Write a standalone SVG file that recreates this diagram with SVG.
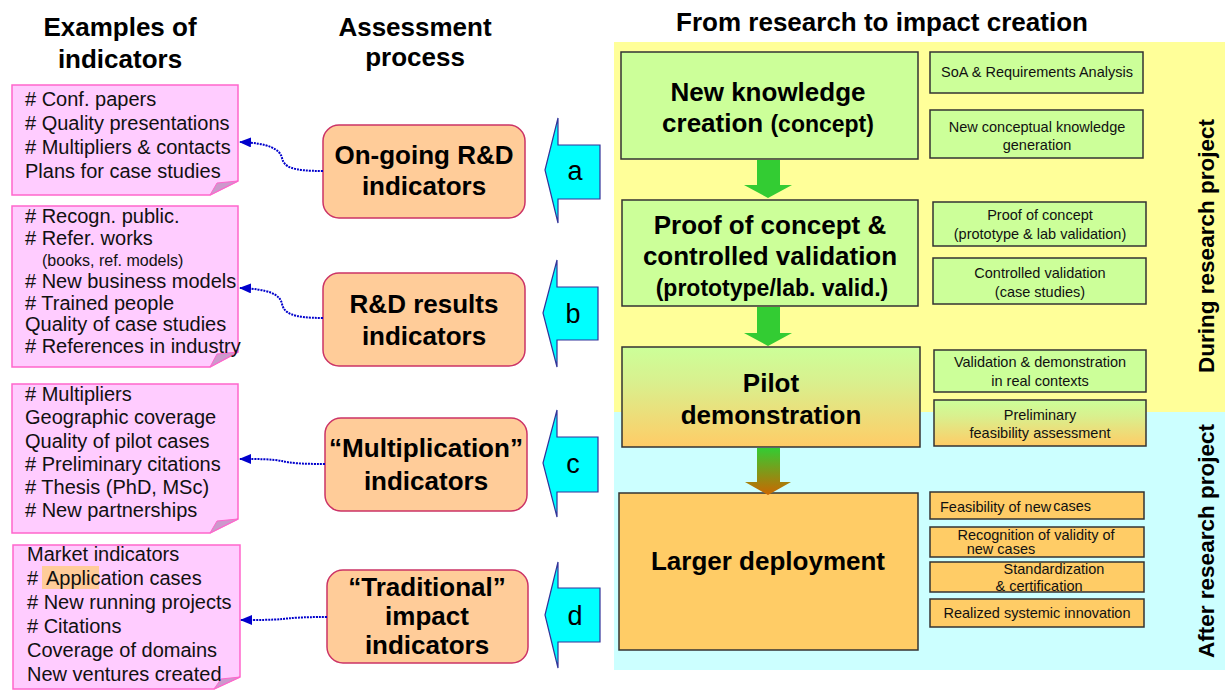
<svg xmlns="http://www.w3.org/2000/svg" width="1225" height="690" viewBox="0 0 1225 690">
<defs>
<style>
.title{font-family:"Liberation Sans",Arial,sans-serif;font-weight:bold;font-size:26px;fill:#000;text-anchor:middle}
.note{fill:#FFCCFF;stroke:#FF66CC;stroke-width:1.5}
.fold{fill:#CC99CC;stroke:#FF66CC;stroke-width:1}
.nt{font-family:"Liberation Sans",Arial,sans-serif;font-size:20px;fill:#111}
.ob{fill:#FFCC99;stroke:#CC3366;stroke-width:1.5}
.obt{font-family:"Liberation Sans",Arial,sans-serif;font-weight:bold;font-size:26px;fill:#000;text-anchor:middle}
.ca{fill:#00FFFF;stroke:#333399;stroke-width:1.2}
.cat{font-family:"Liberation Sans",Arial,sans-serif;font-size:27px;fill:#000;text-anchor:middle}
.gb{fill:#CCFF99;stroke:#333;stroke-width:1.5}
.yb{fill:#FFCC66;stroke:#333;stroke-width:1.5}
.bt{font-family:"Liberation Sans",Arial,sans-serif;font-weight:bold;font-size:26px;fill:#000;text-anchor:middle}
.bs{font-family:"Liberation Sans",Arial,sans-serif;font-weight:bold;font-size:23px;fill:#000;text-anchor:middle}
.st{font-family:"Liberation Sans",Arial,sans-serif;font-size:14.5px;fill:#111;text-anchor:middle}
.sl{font-family:"Liberation Sans",Arial,sans-serif;font-size:14.5px;fill:#111;text-anchor:start}
.vt{font-family:"Liberation Sans",Arial,sans-serif;font-weight:bold;font-size:22.5px;fill:#000;text-anchor:middle}
.conn{fill:none;stroke:#0000CC;stroke-width:2;stroke-dasharray:2 1}
</style>
<marker id="ah" markerWidth="12" markerHeight="10" refX="11" refY="5" orient="auto" markerUnits="userSpaceOnUse">
<path d="M0,0 L12,5 L0,10 Z" fill="#0000CC"/>
</marker>
<linearGradient id="gpilot" x1="0" y1="0" x2="0" y2="1">
<stop offset="0" stop-color="#CCFF99"/>
<stop offset="0.35" stop-color="#D9F08E"/>
<stop offset="1" stop-color="#FFCC66"/>
</linearGradient>
<linearGradient id="garrow" x1="0" y1="0" x2="0" y2="1">
<stop offset="0" stop-color="#33CC33"/>
<stop offset="1" stop-color="#CC6600"/>
</linearGradient>
</defs>

<rect width="1225" height="690" fill="#FFFFFF"/>

<!-- background bands -->
<g id="bands">
<rect x="614" y="42" width="611" height="370" fill="#FFFF99"/>
<rect x="614" y="412" width="611" height="258" fill="#CCFFFF"/>
</g>

<!-- titles -->
<g id="titles">
<text class="title" x="120" y="36">Examples of</text>
<text class="title" x="120" y="68">indicators</text>
<text class="title" x="415" y="36">Assessment</text>
<text class="title" x="415" y="66">process</text>
<text class="title" x="882" y="31">From research to impact creation</text>
</g>

<!-- indicator notes -->
<g id="note-a">
<path class="note" d="M12,85 H238 V181 L210,195 H12 Z"/>
<polygon class="fold" points="238,181 210,195 217,183"/>
<text class="nt">
<tspan x="25" y="106"># Conf. papers</tspan>
<tspan x="25" y="130"># Quality presentations</tspan>
<tspan x="25" y="154"># Multipliers &amp; contacts</tspan>
<tspan x="25" y="178">Plans for case studies</tspan>
</text>
</g>

<g id="note-b">
<path class="note" d="M12,206 H238 V352 L210,367 H12 Z"/>
<polygon class="fold" points="238,352 210,367 217,354"/>
<text class="nt">
<tspan x="25" y="223"># Recogn. public.</tspan>
<tspan x="25" y="245"># Refer. works</tspan>
<tspan x="42" y="266" font-size="16">(books, ref. models)</tspan>
<tspan x="25" y="288"># New business models</tspan>
<tspan x="25" y="310"># Trained people</tspan>
<tspan x="25" y="331">Quality of case studies</tspan>
<tspan x="25" y="353"># References in industry</tspan>
</text>
</g>

<g id="note-c">
<path class="note" d="M12,384 H238 V519 L210,533 H12 Z"/>
<polygon class="fold" points="238,519 210,533 217,521"/>
<text class="nt">
<tspan x="25" y="401"># Multipliers</tspan>
<tspan x="25" y="424">Geographic coverage</tspan>
<tspan x="25" y="448">Quality of pilot cases</tspan>
<tspan x="25" y="471"># Preliminary citations</tspan>
<tspan x="25" y="494"># Thesis (PhD, MSc)</tspan>
<tspan x="25" y="517"># New partnerships</tspan>
</text>
</g>

<g id="note-d">
<path class="note" d="M13,545 H240 V677 L214,689 H13 Z"/>
<polygon class="fold" points="240,677 214,689 221,679"/>
<rect x="42" y="566" width="57" height="23" fill="#FFCC99"/>
<text class="nt">
<tspan x="27" y="561">Market indicators</tspan>
<tspan x="27" y="585"># </tspan><tspan x="46" y="585">Application cases</tspan>
<tspan x="27" y="609"># New running projects</tspan>
<tspan x="27" y="633"># Citations</tspan>
<tspan x="27" y="657">Coverage of domains</tspan>
<tspan x="27" y="681">New ventures created</tspan>
</text>
</g>

<!-- assessment boxes -->
<g id="assess-a">
<rect class="ob" x="323" y="125" width="202" height="93" rx="16"/>
<text class="obt" x="424" y="164">On-going R&amp;D</text>
<text class="obt" x="424" y="195">indicators</text>
</g>
<g id="assess-b">
<rect class="ob" x="323" y="273" width="202" height="93" rx="16"/>
<text class="obt" x="424" y="313">R&amp;D results</text>
<text class="obt" x="424" y="345">indicators</text>
</g>
<g id="assess-c">
<rect class="ob" x="325" y="418" width="202" height="93" rx="16"/>
<text class="obt" x="426" y="457" textLength="194" lengthAdjust="spacingAndGlyphs">“Multiplication”</text>
<text class="obt" x="426" y="490">indicators</text>
</g>
<g id="assess-d">
<rect class="ob" x="327" y="570" width="201" height="93" rx="16"/>
<text class="obt" x="427" y="596">“Traditional”</text>
<text class="obt" x="427" y="625">impact</text>
<text class="obt" x="427" y="654">indicators</text>
</g>

<!-- cyan arrows -->
<g id="arrow-a">
<polygon class="ca" points="545,170 558,118 558,145 600,145 600,199 558,199 558,223"/>
<text class="cat" x="575" y="180">a</text>
</g>
<g id="arrow-b">
<polygon class="ca" points="543,313 557,260 557,287 598,287 598,340 557,340 557,367"/>
<text class="cat" x="573" y="323">b</text>
</g>
<g id="arrow-c">
<polygon class="ca" points="543,463 557,410 557,437 598,437 598,492 557,492 557,517"/>
<text class="cat" x="573" y="473">c</text>
</g>
<g id="arrow-d">
<polygon class="ca" points="545,615 558,562 558,588 600,588 600,642 558,642 558,668"/>
<text class="cat" x="575" y="625">d</text>
</g>

<!-- connectors -->
<g id="connectors">
<path class="conn" d="M323,171 C292,171 284,167 282,158 C280,149 268,143 240,142" marker-end="url(#ah)"/>
<path class="conn" d="M323,318 C292,318 284,313 282,304 C280,294 268,289 240,288" marker-end="url(#ah)"/>
<path class="conn" d="M325,464 C300,464 290,463 282,461 C272,459 258,459 240,459" marker-end="url(#ah)"/>
<path class="conn" d="M327,617 C300,617 292,618 282,619 C272,620 258,620 241,620" marker-end="url(#ah)"/>
</g>

<!-- stage boxes -->
<g id="stage-1">
<rect class="gb" x="621" y="52" width="297" height="107"/>
<text class="bt" x="768" y="101">New knowledge</text>
<text class="bt" x="768" y="132">creation <tspan font-size="23">(concept)</tspan></text>
</g>
<g id="stage-1-details">
<rect class="gb" x="930" y="52" width="213" height="41"/>
<text class="st" x="1037" y="77">SoA &amp; Requirements Analysis</text>
<rect class="gb" x="930" y="110" width="213" height="48"/>
<text class="st" x="1037" y="132">New conceptual knowledge</text>
<text class="st" x="1037" y="150">generation</text>
</g>

<g id="stage-2">
<rect class="gb" x="622" y="200" width="296" height="106"/>
<text class="bt" x="770" y="234">Proof of concept &amp;</text>
<text class="bt" x="770" y="265">controlled validation</text>
<text class="bs" x="772" y="296">(prototype/lab. valid.)</text>
</g>
<g id="stage-2-details">
<rect class="gb" x="933" y="202" width="213" height="44"/>
<text class="st" x="1040" y="220">Proof of concept</text>
<text class="st" x="1040" y="239">(prototype &amp; lab validation)</text>
<rect class="gb" x="933" y="258" width="213" height="46"/>
<text class="st" x="1040" y="278">Controlled validation</text>
<text class="st" x="1040" y="297">(case studies)</text>
</g>

<g id="stage-3">
<rect x="622" y="347" width="298" height="100" fill="url(#gpilot)" stroke="#333" stroke-width="1.5"/>
<text class="bt" x="771" y="392">Pilot</text>
<text class="bt" x="771" y="424">demonstration</text>
</g>
<g id="stage-3-details">
<rect class="gb" x="934" y="350" width="212" height="42"/>
<text class="st" x="1040" y="367">Validation &amp; demonstration</text>
<text class="st" x="1040" y="386">in real contexts</text>
<rect x="934" y="400" width="212" height="46" fill="url(#gpilot)" stroke="#333" stroke-width="1.5"/>
<text class="st" x="1040" y="420">Preliminary</text>
<text class="st" x="1040" y="438">feasibility assessment</text>
</g>

<g id="stage-4">
<rect class="yb" x="619" y="493" width="299" height="157"/>
<text class="bt" x="768" y="570">Larger deployment</text>
</g>
<g id="stage-4-details">
<rect class="yb" x="930" y="492" width="214" height="27"/>
<text class="sl" x="940" y="512">Feasibility of new<tspan dx="2" dy="-1">cases</tspan></text>
<rect class="yb" x="930" y="527" width="214" height="30"/>
<text class="st" x="1036" y="540">Recognition of validity of</text>
<text class="st" x="1001" y="554">new  cases</text>
<rect class="yb" x="930" y="562" width="214" height="30"/>
<text class="st" x="1054" y="574">Standardization</text>
<text class="st" x="1039" y="591">&amp; certification</text>
<rect class="yb" x="930" y="599" width="214" height="28"/>
<text class="st" x="1037" y="618">Realized systemic innovation</text>
</g>

<!-- green flow arrows -->
<g id="flow-arrows">
<polygon points="757,160 780,160 780,185 792,185 768,198 744,185 757,185" fill="#33CC33"/>
<polygon points="757,307 780,307 780,333 792,333 768,346 744,333 757,333" fill="#33CC33"/>
<polygon points="757,448 780,448 780,482 791,482 768,495 745,482 757,482" fill="url(#garrow)"/>
</g>

<!-- phase labels -->
<g id="phase-labels">
<text class="vt" transform="translate(1214,246) rotate(-90)">During research project</text>
<text class="vt" transform="translate(1214,541) rotate(-90)">After research project</text>
</g>
</svg>
